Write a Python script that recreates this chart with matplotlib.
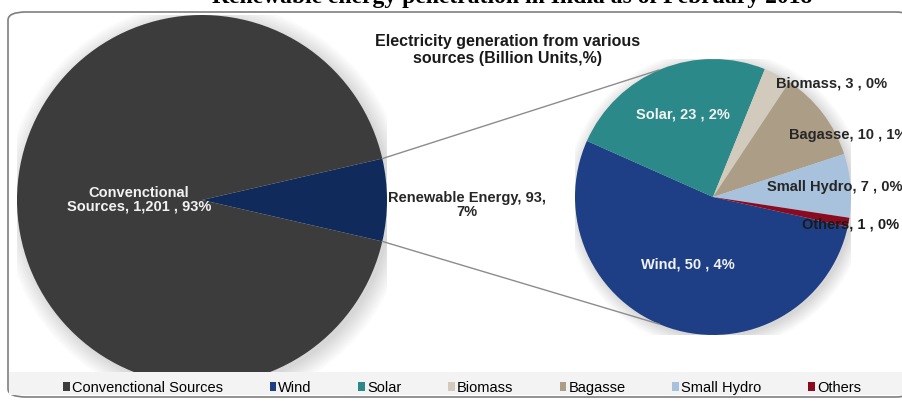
import matplotlib.pyplot as plt
from matplotlib.patches import FancyBboxPatch, Rectangle, ConnectionPatch, Circle
import numpy as np

# data
main_labels = ["Convenctional Sources", "Renewable Energy"]
main_values = [1201, 93]
main_pct = ["93%", "7%"]

sub_labels = ["Wind", "Solar", "Biomass", "Bagasse", "Small Hydro", "Others"]
sub_values = [50, 23, 3, 10, 7, 1]
sub_pct = ["4%", "2%", "0%", "1%", "0%", "0%"]

main_colors = ["#3c3c3c", "#112a5c"]
sub_colors = ["#1e3f86", "#2b8a89", "#d2cbbd", "#ac9e86", "#a8c2dd", "#8a0b1f"]

W, H = 903, 407
fig = plt.figure(figsize=(W / 100, H / 100), dpi=100)
plt.rcParams["font.family"] = ["Liberation Sans", "DejaVu Sans"]


def px(x, y, w, h):
    # pixel box (top-left origin) -> figure fraction
    return [x / W, (H - y - h) / H, w / W, h / H]


def soft_shadow(ax):
    # faint grey glow round a pie, like the office-chart drop shadow
    for r in np.linspace(1.09, 1.0, 8):
        ax.add_patch(Circle((0.02, -0.02), r, facecolor="#000000", alpha=0.018,
                            edgecolor="none", zorder=0))


# frame and grey legend strip
frame = FancyBboxPatch((8 / W, 10 / H), 905 / W, 385 / H,
                       boxstyle="round,pad=0,rounding_size=0.02",
                       transform=fig.transFigure, facecolor="white",
                       edgecolor="#7f7f7f", lw=1.2, zorder=0)
fig.add_artist(frame)

# big pie
ax1 = fig.add_axes(px(17, 15, 370, 370))
share = main_values[1] / sum(main_values) * 360
soft_shadow(ax1)
w1, _ = ax1.pie(main_values[::-1], colors=main_colors[::-1], startangle=-share / 2,
                radius=1, wedgeprops=dict(linewidth=0))
ax1.set_xlim(-1, 1)
ax1.set_ylim(-1, 1)
ax1.text(-0.34, 0.0, "Convenctional\nSources, 1,201 , 93%", color="#f2f2f2",
         ha="center", va="center", fontsize=10.5, fontweight="bold", linespacing=1.0)

# small pie
ax2 = fig.add_axes(px(575, 59, 276, 276))
soft_shadow(ax2)
w2, _ = ax2.pie(sub_values, colors=sub_colors, startangle=-12.5, counterclock=False,
                radius=1, wedgeprops=dict(linewidth=0))
ax2.set_xlim(-1, 1)
ax2.set_ylim(-1, 1)

sub_text = [
    ("Wind", -0.18, -0.49, "#f2f2f2"),
    ("Solar", -0.22, 0.6, "#f2f2f2"),
    ("Biomass", 0.86, 0.82, "#262626"),
    ("Bagasse", 0.98, 0.45, "#262626"),
    ("Small Hydro", 0.88, 0.07, "#262626"),
    ("Others", 1.0, -0.2, "#1a1a1a"),
]
for (name, tx, ty, col), v, p in zip(sub_text, sub_values, sub_pct):
    ax2.text(tx, ty, f"{name}, {v} , {p}", color=col, ha="center", va="center",
             fontsize=10.5, fontweight="bold", clip_on=False)

fig.text(467 / W, 1 - 205 / H, "Renewable Energy, 93,\n7%", ha="center", va="center",
         fontsize=10.5, fontweight="bold", color="#262626", linespacing=1.0)

# connector lines between the pies
a1 = np.deg2rad(share / 2)
a2 = np.deg2rad(113)
for s in (1, -1):
    con = ConnectionPatch(xyA=(np.cos(a1), s * np.sin(a1)), coordsA=ax1.transData,
                          xyB=(np.cos(a2), s * np.sin(a2)), coordsB=ax2.transData,
                          color="#8c8c8c", lw=1.0)
    fig.add_artist(con)

fig.text(508 / W, 1 - 50 / H, "Electricity generation from various\nsources (Billion Units,%)",
         ha="center", va="center", fontsize=11.5, fontweight="bold", color="#1a1a1a",
         linespacing=1.1)

fig.text(512 / W, 1 - 3 / H, "Renewable energy penetration in India as of February 2018",
         ha="center", va="baseline", fontsize=17, fontweight="bold",
         family="Liberation Serif")

# legend strip drawn over the pie bottoms
fig.add_artist(Rectangle((9 / W, 12 / H), 894 / W, 23 / H, transform=fig.transFigure,
                         facecolor="#f3f3f3", edgecolor="none", zorder=3))
handles = [Rectangle((0, 0), 1, 1, facecolor=c, edgecolor="none")
           for c in [main_colors[0]] + sub_colors]
leg = fig.legend(handles, [main_labels[0]] + sub_labels, loc="center",
                 bbox_to_anchor=(462 / W, 1 - 388 / H), ncol=7, frameon=False,
                 fontsize=10.5, handlelength=0.45, handleheight=0.6, handletextpad=0.15,
                 columnspacing=3.2)
leg.set_zorder(4)

fig.savefig("out.png", dpi=100)
